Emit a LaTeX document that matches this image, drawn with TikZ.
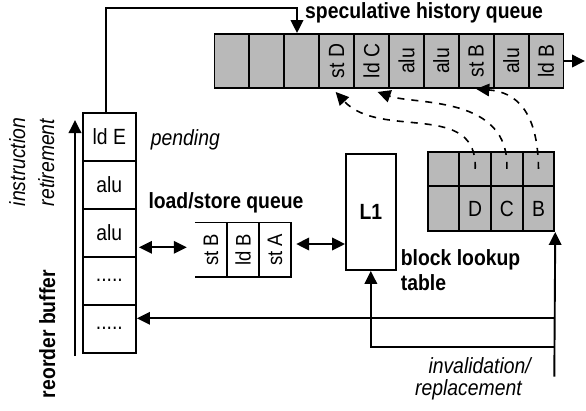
\documentclass[tikz,border=0pt]{standalone}
\usepackage{fontspec}
\setmainfont{Liberation Sans}[FakeStretch=0.88]
\usetikzlibrary{arrows.meta,calc}
\definecolor{cellgray}{RGB}{185,185,185}
\newcommand\myfivedots{.....}
\begin{document}
\begin{tikzpicture}[x=1pt,y=-1pt,
  every node/.style={font=\fontsize{22}{24}\selectfont, inner sep=0pt},
  bl/.style={font=\fontsize{22}{24}\selectfont\bfseries},
  it/.style={font=\fontsize{22}{24}\selectfont\itshape},
  ln/.style={line width=1.9pt},
  arr/.style={line width=1.9pt,-{Triangle[length=13pt,width=12.5pt]}},
  darr/.style={line width=1.9pt,{Triangle[length=13pt,width=12.5pt]}-{Triangle[length=13pt,width=12.5pt]}},
  dsh/.style={line width=1.6pt,dash pattern=on 7pt off 7pt,-{Triangle[length=13pt,width=12.5pt]}},
  gcell/.style={draw,line width=1.9pt,fill=cellgray,minimum width=34.9pt,minimum height=54pt},
  rcell/.style={draw,line width=1.9pt,minimum width=53.3pt,minimum height=48pt},
  qcell/.style={minimum width=32pt,minimum height=54pt,font=\fontsize{21}{23}\selectfont},
  tcell/.style={draw,line width=1.9pt,fill=cellgray,minimum width=31.65pt,minimum height=34.3pt},
  bcell/.style={draw,line width=1.9pt,fill=cellgray,minimum width=31.65pt,minimum height=45pt}
]
\useasboundingbox (0,0) rectangle (586,410);

% speculative history queue
\foreach \i/\t in {1/,2/,3/,4/st D,5/ld C,6/alu,7/alu,8/st B,9/alu,10/ld B}
  \node[gcell] (s\i) at ({214.5+34.9*(\i-0.5)},61) {\rotatebox{90}{\t}};
\node[bl,anchor=base west] (shqlab) at (305,18.3) {speculative history queue};

% reorder buffer
\foreach \i/\t in {1/ld E,2/alu,3/alu,4/\myfivedots,5/\myfivedots}
  \node[rcell] (r\i) at (109.35,{112.7+48*(\i-0.5)}) {\t};

% load/store queue
\foreach \i/\t in {1/st B,2/ld B,3/st A}
  \node[qcell] (q\i) at ({195+32*(\i-0.5)},249.7) {\rotatebox{90}{\t}};
\draw[ln] (q1.north west) -- (q3.north east) -- (q3.south east) -- (q1.south west);
\draw[ln] (q1.north east) -- (q1.south east);
\draw[ln] (q2.north east) -- (q2.south east);
\node[bl,anchor=base west] (lsqlab) at (148.3,208.3) {load/store queue};

% L1
\node[draw,line width=1.9pt,minimum width=49.7pt,minimum height=116pt,bl] (l1) at (370.85,212) {\raisebox{-6pt}{L1}};

% block lookup table
\foreach \i in {1,2,3,4}
  \node[tcell] (b\i) at ({427.7+31.65*(\i-0.5)},168.85) {};
\foreach \i/\t in {1/,2/D,3/C,4/B}
  \node[bcell] (c\i) at ({427.7+31.65*(\i-0.5)},208.5) {\t};
\node[bl,anchor=base west] (blt1) at (400.7,265) {block lookup};
\node[bl,anchor=base west] (blt2) at (400.7,290.5) {table};

% other labels
\node[it,anchor=base west] (pend) at (150.7,145) {pending};
\node[it,anchor=base west] (inv1) at (428.3,373) {invalidation/};
\node[it,anchor=base west] (inv2) at (415,395) {replacement};
\node[it,rotate=90,anchor=base] (ir1) at (25,162) {instruction};
\node[it,rotate=90,anchor=base] (ir2) at (54,162.5) {retirement};
\node[bl,rotate=90,anchor=base] (rbl) at (55,334) {reorder buffer};

% top connector
\coordinate (tl) at (106,8);
\coordinate (tr) at (297,8);
\draw[arr] (tl |- r1.north) -- (tl) -- (tr) -- (tr |- s3.north);

% output of the queue
\coordinate (out) at (585,61);
\draw[arr] (s10.east) -- (out);

% retirement arrow
\coordinate (ra0) at (75,356);
\coordinate (ra1) at (75,120);
\draw[arr] (ra0) -- (ra1);

% double arrows
\draw[darr] ([xshift=2pt]r3.east |- 0,247.3) -- ([xshift=-8pt]q1.west |- 0,247.3);
\draw[darr] ([xshift=5pt]q3.east |- 0,244) -- (l1.west |- 0,244);

% dashed links
\draw[dsh] (b2.center) .. controls (478,100) and (380,140) .. ($(s4.south)+(-1,3)$);
\draw[dsh] (b3.center) .. controls (510,95) and (415,105) .. ($(s5.south)+(6,3)$);
\draw[dsh] (b4.center) .. controls (538,110) and (515,92) .. (s8.south);

% invalidation / replacement feedback
\coordinate (fb) at (554.3,376.7);
\coordinate (h1) at (554.3,318.3);
\coordinate (h2) at (554.3,347.3);
\draw[arr] (fb) -- (c4.south east);
\draw[arr] (h1) -- (h1 -| r5.east);
\draw[arr] (h2) -| (l1.south);
\end{tikzpicture}
\end{document}
